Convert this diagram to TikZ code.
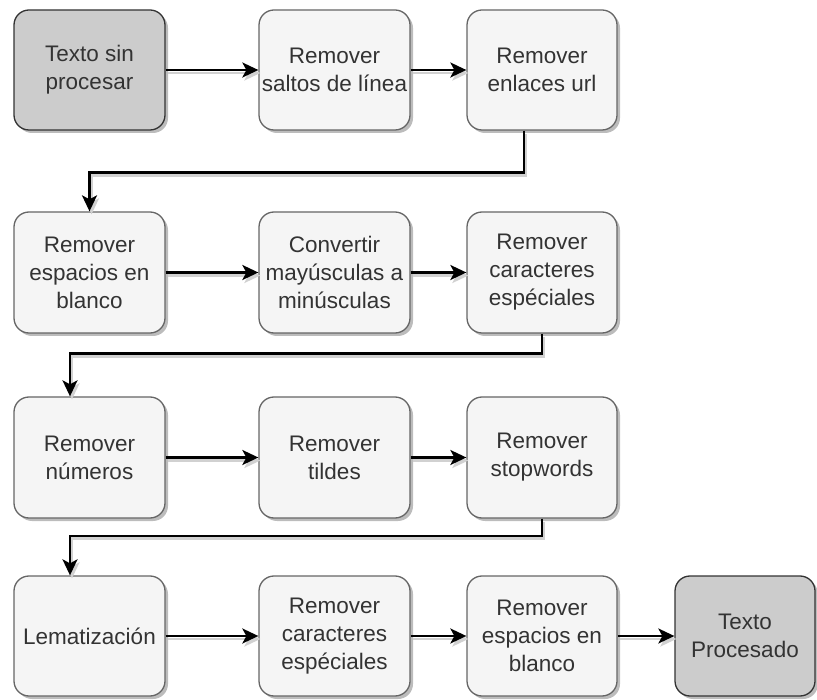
\documentclass[tikz,border=0pt]{standalone}
\usepackage{fontspec}
\setmainfont{Liberation Sans}
\usetikzlibrary{arrows.meta,shadows,calc}
\definecolor{txt}{HTML}{333333}
\definecolor{lightfill}{HTML}{F5F5F5}
\definecolor{lightdraw}{HTML}{666666}
\definecolor{darkfill}{HTML}{CCCCCC}
\definecolor{darkdraw}{HTML}{333333}
\definecolor{shad}{HTML}{A0A0A0}
\begin{document}
\begin{tikzpicture}[x=1pt,y=1pt,
  box/.style={rectangle, rounded corners=15pt, line width=1.3pt, draw=lightdraw, fill=lightfill,
    text=txt, align=center, inner sep=0pt, font=\fontsize{22.5}{28}\selectfont,
    drop shadow={shadow xshift=3pt, shadow yshift=-3pt, fill=shad, opacity=0.7}},
  darkbox/.style={box, draw=darkdraw, fill=darkfill},
  conn/.style={line width=2.3pt, draw=black, -{Stealth[length=16pt,width=15pt,inset=4pt]},
    preaction={draw=black!18, line width=2.5pt, transform canvas={shift={(2pt,-3pt)}}}}
]
\useasboundingbox (0,0) rectangle (817,-700);
% row 1
\node[darkbox, minimum width=151pt, minimum height=120pt] (n11) at (89.5,-70) {Texto sin\\procesar};
\node[box, minimum width=151pt, minimum height=120pt] (n12) at (334.5,-70) {Remover\\saltos de línea};
\node[box, minimum width=150pt, minimum height=120pt] (n13) at (542,-70) {Remover\\enlaces url};
% row 2
\node[box, minimum width=151pt, minimum height=121pt] (n21) at (89.5,-272.5) {Remover\\espacios en\\blanco};
\node[box, minimum width=151pt, minimum height=121pt] (n22) at (334.5,-272.5) {Convertir\\mayúsculas a\\minúsculas};
\node[box, minimum width=150pt, minimum height=121pt] (n23) at (542,-272.5) {Remover\\caracteres\\espéciales};
% row 3
\node[box, minimum width=151pt, minimum height=121pt] (n31) at (89.5,-457.5) {Remover\\números};
\node[box, minimum width=151pt, minimum height=121pt] (n32) at (334.5,-457.5) {Remover\\tildes};
\node[box, minimum width=150pt, minimum height=121pt] (n33) at (542,-457.5) {Remover\\stopwords};
% row 4
\node[box, minimum width=151pt, minimum height=120pt] (n41) at (89.5,-636) {Lematización};
\node[box, minimum width=151pt, minimum height=120pt] (n42) at (334.5,-636) {Remover\\caracteres\\espéciales};
\node[box, minimum width=150pt, minimum height=120pt] (n43) at (542,-636) {Remover\\espacios en\\blanco};
\node[darkbox, minimum width=140pt, minimum height=120pt] (n44) at (745,-636) {Texto\\Procesado};
% connectors
\draw[conn] (n11) -- (n12);
\draw[conn] (n12) -- (n13);
\draw[conn] ([xshift=-18pt]n13.south) -- ++(0,-42) -| (n21.north);
\draw[conn] (n21) -- (n22);
\draw[conn] (n22) -- (n23);
\draw[conn] (n23.south) -- ++(0,-20) -| ([xshift=-19.5pt]n31.north);
\draw[conn] (n31) -- (n32);
\draw[conn] (n32) -- (n33);
\draw[conn] (n33.south) -- ++(0,-17) -| ([xshift=-19.5pt]n41.north);
\draw[conn] (n41) -- (n42);
\draw[conn] (n42) -- (n43);
\draw[conn] (n43) -- (n44);
\end{tikzpicture}
\end{document}
